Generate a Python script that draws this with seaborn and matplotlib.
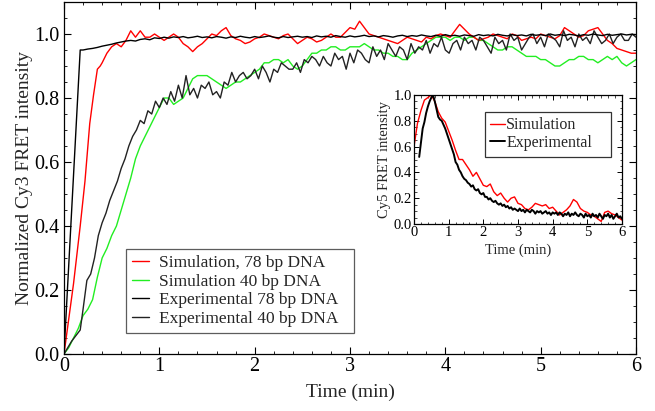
import numpy as np
import pandas as pd
import matplotlib
matplotlib.use("Agg")
import matplotlib.pyplot as plt
import seaborn as sns
from matplotlib.ticker import MultipleLocator

# ---------------- data ----------------
# Experimental, 78 bp DNA (main panel)
exp78_t_early = [0.0, 0.17]
exp78_v_early = [0.0, 0.950]
exp78_t_grid = np.linspace(0.20, 6.00, 117)
exp78_v_grid = [
    0.950, 0.953, 0.955, 0.958, 0.962, 0.965, 0.968, 0.972, 0.975, 0.978,
    0.980, 0.978, 0.983, 0.985, 0.982, 0.988, 0.986, 0.990, 0.987, 0.991,
    0.989, 0.992, 0.988, 0.990, 0.993, 0.989, 0.991, 0.988, 0.992, 0.990,
    0.987, 0.991, 0.989, 0.993, 0.990, 0.988, 0.992, 0.989, 0.991, 0.994,
    0.990, 0.988, 0.992, 0.989, 0.991, 0.993, 0.990, 0.992, 0.989, 0.994,
    0.991, 0.993, 0.990, 0.995, 0.992, 0.990, 0.994, 0.991, 0.993, 0.996,
    0.992, 0.994, 0.991, 0.995, 0.993, 0.990, 0.994, 0.996, 0.992, 0.995,
    0.993, 0.997, 0.994, 0.992, 0.996, 0.993, 0.998, 0.994, 0.996, 0.993,
    0.997, 0.995, 0.993, 0.998, 0.995, 0.997, 0.994, 0.999, 0.996, 0.994,
    0.998, 0.995, 0.997, 0.994, 0.999, 0.996, 0.998, 0.995, 1.000, 0.996,
    0.998, 0.995, 0.999, 0.997, 0.994, 0.998, 0.996, 1.000, 0.997, 0.995,
    0.999, 0.996, 0.998, 1.000, 0.997, 0.999, 0.998,
]

# Simulation, 78 bp DNA (main panel)
sim78_t_early = [0.0, 0.10, 0.17, 0.22, 0.27, 0.31, 0.35, 0.38]
sim78_v_early = [0.0, 0.22, 0.40, 0.54, 0.72, 0.81, 0.89, 0.90]
sim78_t_grid = np.linspace(0.40, 6.00, 113)
sim78_v_grid = [
    0.91, 0.94, 0.96, 0.97, 0.96, 0.98, 1.01, 0.99, 1.01, 0.99,
    0.99, 1.00, 0.99, 0.98, 0.99, 1.00, 0.99, 0.97, 0.96, 0.945,
    0.96, 0.97, 0.985, 1.00, 0.995, 1.01, 1.02, 0.995, 0.985, 0.98,
    0.97, 0.975, 0.985, 0.99, 1.00, 0.995, 0.99, 0.985, 0.995, 1.00,
    0.985, 0.97, 0.98, 0.99, 0.985, 0.975, 0.98, 0.99, 1.00, 0.99,
    0.99, 1.005, 1.02, 1.015, 1.04, 1.02, 1.00, 0.995, 0.99, 0.985,
    0.98, 0.975, 0.97, 0.98, 0.99, 0.985, 0.98, 0.975, 0.99, 0.985,
    0.995, 1.00, 0.995, 0.99, 1.01, 1.03, 1.015, 1.00, 0.99, 0.98,
    0.985, 0.99, 1.00, 0.995, 0.99, 0.985, 1.00, 0.995, 0.98, 0.985,
    0.99, 0.985, 1.00, 0.995, 0.99, 0.985, 0.995, 1.02, 1.01, 1.00,
    0.99, 0.995, 1.01, 1.015, 1.02, 1.00, 0.98, 0.97, 0.955, 0.95,
    0.945, 0.94, 0.94,
]

# Simulation, 40 bp DNA (main panel)
sim40_t = np.linspace(0.0, 6.0, 121)
sim40_v = [
    0.00, 0.02, 0.05, 0.08, 0.12, 0.14, 0.17, 0.24, 0.30, 0.33,
    0.37, 0.40, 0.45, 0.50, 0.55, 0.61, 0.65, 0.68, 0.71, 0.74,
    0.77, 0.80, 0.80, 0.78, 0.79, 0.80, 0.83, 0.86, 0.87, 0.87,
    0.87, 0.86, 0.85, 0.84, 0.83, 0.84, 0.85, 0.85, 0.86, 0.87,
    0.88, 0.89, 0.91, 0.91, 0.92, 0.92, 0.91, 0.92, 0.90, 0.89,
    0.90, 0.92, 0.94, 0.94, 0.95, 0.95, 0.96, 0.96, 0.95, 0.95,
    0.96, 0.96, 0.96, 0.97, 0.96, 0.95, 0.95, 0.94, 0.94, 0.93,
    0.93, 0.92, 0.92, 0.94, 0.95, 0.96, 0.97, 0.98, 0.99, 0.99,
    0.99, 0.98, 0.99, 0.99, 0.98, 0.99, 0.99, 0.98, 0.98, 0.97,
    0.96, 0.95, 0.95, 0.96, 0.96, 0.95, 0.94, 0.93, 0.93, 0.93,
    0.92, 0.92, 0.91, 0.90, 0.90, 0.91, 0.92, 0.92, 0.93, 0.93,
    0.92, 0.92, 0.91, 0.92, 0.93, 0.92, 0.93, 0.91, 0.90, 0.91,
    0.92,
]

# Experimental, 40 bp DNA (main panel)
exp40_t_early = [0.0, 0.08, 0.17]
exp40_v_early = [0.0, 0.04, 0.075]
exp40_t_grid = np.linspace(0.20, 6.00, 146)
exp40_v_grid = [
    0.14, 0.23, 0.25, 0.30, 0.37, 0.41, 0.44, 0.48, 0.51, 0.54,
    0.58, 0.61, 0.65, 0.68, 0.70, 0.73, 0.72, 0.76, 0.75, 0.79,
    0.77, 0.80, 0.78, 0.82, 0.79, 0.84, 0.80, 0.87, 0.81, 0.83,
    0.80, 0.84, 0.83, 0.85, 0.81, 0.82, 0.80, 0.85, 0.84, 0.88,
    0.85, 0.87, 0.88, 0.86, 0.87, 0.89, 0.86, 0.90, 0.88, 0.85,
    0.89, 0.88, 0.91, 0.90, 0.89, 0.89, 0.91, 0.88, 0.92, 0.91,
    0.93, 0.92, 0.90, 0.93, 0.91, 0.90, 0.94, 0.92, 0.93, 0.89,
    0.94, 0.91, 0.95, 0.94, 0.92, 0.91, 0.96, 0.93, 0.95, 0.92,
    0.97, 0.95, 0.93, 0.96, 0.95, 0.92, 0.97, 0.94, 0.96, 0.95,
    0.98, 0.94, 0.97, 0.96, 0.99, 0.95, 0.94, 0.97, 0.98, 0.95,
    0.99, 0.97, 0.98, 0.95, 0.99, 0.98, 0.96, 0.94, 0.99, 0.97,
    0.98, 0.95, 1.00, 0.98, 0.99, 0.95, 0.97, 0.99, 1.00, 0.97,
    0.99, 0.96, 1.00, 0.99, 0.98, 0.96, 1.01, 0.98, 0.99, 0.96,
    1.00, 0.98, 0.99, 0.97, 1.01, 0.99, 0.97, 0.98, 1.00, 0.97,
    0.99, 1.00, 0.98, 0.98, 1.00, 0.99,
]

# Inset: Cy5 FRET, simulation
ins_sim_t = np.linspace(0.0, 6.0, 61)
ins_sim_v = [
    0.60, 0.78, 0.88, 0.96, 0.98, 1.00, 0.95, 0.87, 0.82, 0.79,
    0.72, 0.65, 0.57, 0.50, 0.50, 0.46, 0.42, 0.37, 0.40, 0.35,
    0.30, 0.29, 0.31, 0.25, 0.22, 0.24, 0.20, 0.17, 0.20, 0.21,
    0.16, 0.15, 0.12, 0.11, 0.13, 0.16, 0.15, 0.14, 0.15, 0.12,
    0.13, 0.10, 0.07, 0.09, 0.11, 0.14, 0.19, 0.17, 0.12, 0.10,
    0.09, 0.07, 0.06, 0.04, 0.02, 0.09, 0.10, 0.08, 0.07, 0.05,
    0.03,
]

# Inset: Cy5 FRET, experimental
ins_exp_t = np.linspace(0.15, 6.0, 118)
ins_exp_v = [
    0.52, 0.63, 0.74, 0.79, 0.86, 0.91, 0.95, 0.98, 1.00, 0.95,
    0.89, 0.83, 0.81, 0.80, 0.77, 0.74, 0.70, 0.66, 0.62, 0.58,
    0.54, 0.48, 0.46, 0.42, 0.40, 0.37, 0.35, 0.34, 0.32, 0.31,
    0.29, 0.30, 0.27, 0.26, 0.27, 0.24, 0.23, 0.24, 0.21, 0.21,
    0.19, 0.20, 0.18, 0.17, 0.18, 0.16, 0.15, 0.16, 0.14, 0.15,
    0.13, 0.14, 0.12, 0.13, 0.11, 0.12, 0.11, 0.10, 0.12, 0.10,
    0.11, 0.09, 0.11, 0.10, 0.09, 0.11, 0.10, 0.08, 0.10, 0.09,
    0.10, 0.08, 0.09, 0.10, 0.08, 0.09, 0.07, 0.09, 0.08, 0.09,
    0.07, 0.09, 0.08, 0.06, 0.08, 0.07, 0.09, 0.06, 0.08, 0.07,
    0.09, 0.07, 0.06, 0.08, 0.07, 0.05, 0.08, 0.06, 0.07, 0.05,
    0.08, 0.06, 0.07, 0.05, 0.08, 0.06, 0.04, 0.07, 0.06, 0.08,
    0.05, 0.07, 0.04, 0.06, 0.08, 0.05, 0.06, 0.04,
]

main_labels = ["Simulation, 78 bp DNA", "Simulation 40 bp DNA",
               "Experimental 78 bp DNA", "Experimental 40 bp DNA"]
inset_labels = ["Simulation", "Experimental"]

# ---------------- figure ----------------
sns.set_theme(style="ticks")
plt.rcParams["font.family"] = ["Liberation Serif", "DejaVu Serif"]

fig = plt.figure(figsize=(6.55, 4.11), dpi=100)
ax = fig.add_axes([64 / 655, 1 - 354 / 411, 572 / 655, 352 / 411])

RED = "#ff0000"
GREEN = "#22ee22"
BLACK = "#000000"

def series(t1, v1, t2=None, v2=None):
    t = list(t1) + ([] if t2 is None else list(t2))
    v = list(v1) + ([] if v2 is None else list(v2))
    return pd.DataFrame({"t": t, "v": v})

d_sim78 = series(sim78_t_early, sim78_v_early, sim78_t_grid, sim78_v_grid)
d_sim40 = series(sim40_t, sim40_v)
d_exp78 = series(exp78_t_early, exp78_v_early, exp78_t_grid, exp78_v_grid)
d_exp40 = series(exp40_t_early, exp40_v_early, exp40_t_grid, exp40_v_grid)

lw = 1.0
sns.lineplot(data=d_sim40, x="t", y="v", ax=ax, color=GREEN, lw=lw,
             estimator=None, sort=False, label=main_labels[1])
sns.lineplot(data=d_sim78, x="t", y="v", ax=ax, color=RED, lw=lw,
             estimator=None, sort=False, label=main_labels[0])
sns.lineplot(data=d_exp40, x="t", y="v", ax=ax, color="#222222", lw=lw,
             estimator=None, sort=False, label=main_labels[3])
sns.lineplot(data=d_exp78, x="t", y="v", ax=ax, color=BLACK, lw=lw,
             estimator=None, sort=False, label=main_labels[2])

ax.set_xlim(0, 6)
ax.set_ylim(0, 1.1)
ax.xaxis.set_major_locator(MultipleLocator(1))
ax.xaxis.set_minor_locator(MultipleLocator(0.2))
ax.set_yticks([0, 0.2, 0.4, 0.6, 0.8, 1.0])
ax.set_yticklabels(["0.0", "0.2", "0.4", "0.6", "0.8", "1.0"])
ax.yaxis.set_minor_locator(MultipleLocator(0.05))
ax.tick_params(which="both", direction="in", top=True, right=True,
               labelsize=14.5, colors="black")
ax.tick_params(axis="y", pad=3)
ax.tick_params(axis="x", pad=2)
ax.tick_params(which="major", length=5, width=0.8)
ax.tick_params(which="minor", length=2.5, width=0.6)
for s in ax.spines.values():
    s.set_color("black")
    s.set_linewidth(0.9)
ax.set_xlabel("Time (min)", fontsize=14, labelpad=6)
ax.set_ylabel("Normalized Cy3 FRET intensity", fontsize=14, labelpad=1)

h, l = ax.get_legend_handles_labels()
order = [l.index(x) for x in main_labels]
leg = ax.legend([h[i] for i in order], [l[i] for i in order],
                loc="lower left", bbox_to_anchor=(0.108, 0.06, 0.399, 0.23),
                mode="expand",
                fontsize=12.5, frameon=True, fancybox=False,
                handlelength=1.0, handletextpad=0.55, labelspacing=0.14,
                borderpad=0.35, borderaxespad=0)
leg.get_frame().set_edgecolor("#333333")
leg.get_frame().set_linewidth(0.9)

# ---------------- inset ----------------
axi = fig.add_axes([414 / 655, 1 - 224 / 411, 208 / 655, 129 / 411])
d_isim = pd.DataFrame({"t": ins_sim_t, "v": ins_sim_v})
d_iexp = pd.DataFrame({"t": ins_exp_t, "v": ins_exp_v})
sns.lineplot(data=d_isim, x="t", y="v", ax=axi, color=RED, lw=1.0,
             estimator=None, sort=False, label=inset_labels[0])
sns.lineplot(data=d_iexp, x="t", y="v", ax=axi, color=BLACK, lw=1.4,
             estimator=None, sort=False, label=inset_labels[1])
axi.set_xlim(0, 6)
axi.set_ylim(0, 1.0)
axi.xaxis.set_major_locator(MultipleLocator(1))
axi.xaxis.set_minor_locator(MultipleLocator(0.2))
axi.set_yticks([0, 0.2, 0.4, 0.6, 0.8, 1.0])
axi.set_yticklabels(["0.0", "0.2", "0.4", "0.6", "0.8", "1.0"])
axi.yaxis.set_minor_locator(MultipleLocator(0.05))
axi.tick_params(which="both", direction="in", top=True, right=True,
                labelsize=10.5, pad=1.5, colors="black")
axi.tick_params(which="major", length=3.5, width=0.7)
axi.tick_params(which="minor", length=1.8, width=0.5)
for s in axi.spines.values():
    s.set_color("black")
    s.set_linewidth(0.9)
axi.set_xlabel("Time (min)", fontsize=10.5, labelpad=3)
axi.set_ylabel("Cy5 FRET intensity", fontsize=10.5, labelpad=2)
legi = axi.legend(loc="upper left", bbox_to_anchor=(0.34, 0.54, 0.605, 0.33),
                  mode="expand",
                  fontsize=11.5, frameon=True, fancybox=False,
                  handlelength=0.9, handletextpad=0.1, labelspacing=0.1,
                  borderpad=0.35, borderaxespad=0)
legi.get_frame().set_edgecolor("#333333")
legi.get_frame().set_linewidth(0.9)
legi.get_frame().set_alpha(1)

fig.savefig("out.png", dpi=100)
